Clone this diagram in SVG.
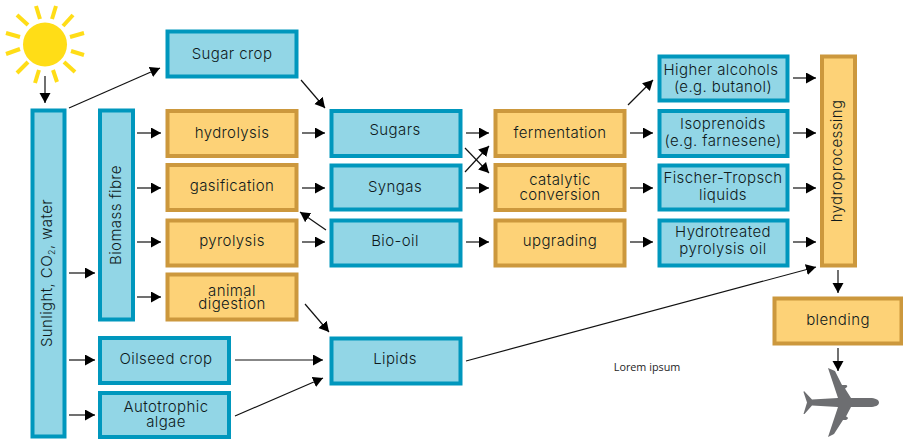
<svg xmlns="http://www.w3.org/2000/svg" width="903" height="439" viewBox="0 0 903 439">
<style>
.b rect{fill:#92d6e6;stroke:#0097bd;stroke-width:4}
.o rect{fill:#fdd277;stroke:#cc983d;stroke-width:4}
text{font-family:"Inter","Liberation Sans",sans-serif;font-size:15px;font-weight:300;letter-spacing:.4px;fill:#0f1a1c;text-anchor:middle}
.c line{stroke:#111;stroke-width:1.2;marker-end:url(#a)}
.r line{stroke:#ffdd17;stroke-width:4}
</style>
<defs><marker id="a" markerUnits="userSpaceOnUse" markerWidth="12" markerHeight="12" refX="10" refY="5.5" orient="auto"><path d="M0 0L10 5.5L0 11z" fill="#000"/></marker></defs>
<g id="sun"><circle cx="45" cy="44.500" r="22" fill="#ffdd17"/><g class="r"><line x1="36" y1="6" x2="40" y2="19"/><line x1="56" y1="6" x2="52" y2="19"/><line x1="17" y1="15" x2="28" y2="25"/><line x1="73" y1="15" x2="63" y2="26"/><line x1="6" y1="33" x2="20" y2="37"/><line x1="84" y1="33" x2="70" y2="37"/><line x1="6" y1="54" x2="20" y2="49"/><line x1="84" y1="55" x2="71" y2="51"/><line x1="17" y1="73" x2="28" y2="62"/><line x1="75" y1="72" x2="64" y2="62"/><line x1="35" y1="83" x2="39" y2="70"/><line x1="57" y1="82" x2="53" y2="70"/></g></g>
<g class="c" id="connectors">
<line x1="45" y1="76" x2="45" y2="103"/><line x1="69" y1="108" x2="160" y2="68"/><line x1="301" y1="80" x2="325" y2="108"/>
<line x1="137" y1="133" x2="161" y2="133"/><line x1="137" y1="188" x2="161" y2="188"/><line x1="137" y1="242" x2="161" y2="242"/><line x1="137" y1="297" x2="161" y2="297"/>
<line x1="69" y1="273" x2="95" y2="273"/><line x1="69" y1="360" x2="95" y2="360"/><line x1="69" y1="415" x2="95" y2="415"/>
<line x1="302" y1="133" x2="325" y2="133"/><line x1="302" y1="188" x2="325" y2="188"/><line x1="302" y1="242" x2="325" y2="242"/>
<line x1="326" y1="230" x2="300" y2="212"/><line x1="305" y1="304" x2="329" y2="332"/><line x1="235" y1="360" x2="323" y2="360"/><line x1="235" y1="416" x2="323" y2="378"/>
<line x1="466" y1="133" x2="489" y2="133"/><line x1="466" y1="188" x2="489" y2="188"/><line x1="466" y1="242" x2="489" y2="242"/>
<line x1="465" y1="148" x2="489" y2="173"/><line x1="465" y1="172" x2="489" y2="146"/>
<line x1="630" y1="133" x2="653" y2="133"/><line x1="630" y1="188" x2="653" y2="188"/><line x1="630" y1="242" x2="653" y2="242"/><line x1="628" y1="105" x2="653" y2="80"/>
<line x1="793" y1="78" x2="816" y2="78"/><line x1="793" y1="133" x2="816" y2="133"/><line x1="793" y1="188" x2="816" y2="188"/><line x1="793" y1="242" x2="816" y2="242"/>
<line x1="466" y1="361" x2="816" y2="267"/><line x1="838" y1="270" x2="838" y2="293"/><line x1="838" y1="348" x2="838" y2="371"/>
</g>
<g id="n1" class="b"><rect x="32.500" y="110.500" width="32" height="326"/><text transform="translate(52,273) rotate(-90)">Sunlight, CO<tspan font-size="9" dy="3">2</tspan><tspan dy="-3">, water</tspan></text></g>
<g id="n2" class="b"><rect x="100" y="110.500" width="33" height="209"/><text transform="translate(120.500,215) rotate(-90)">Biomass fibre</text></g>
<g id="n3" class="b"><rect x="167.500" y="31.500" width="129" height="45"/><text x="232" y="59">Sugar crop</text></g>
<g id="n4" class="o"><rect x="167.500" y="111" width="129" height="45"/><text x="232" y="138">hydrolysis</text></g>
<g id="n5" class="o"><rect x="167.500" y="165" width="129" height="45"/><text x="232" y="191">gasification</text></g>
<g id="n6" class="o"><rect x="167.500" y="220.500" width="129" height="45"/><text x="232" y="246">pyrolysis</text></g>
<g id="n7" class="o"><rect x="167.500" y="274.500" width="129" height="45"/><text x="232" y="296">animal</text><text x="232" y="309">digestion</text></g>
<g id="n8" class="b"><rect x="100" y="338" width="129" height="45"/><text x="166" y="364">Oilseed crop</text></g>
<g id="n9" class="b"><rect x="100" y="393" width="129" height="44"/><text x="166" y="412">Autotrophic</text><text x="166" y="427">algae</text></g>
<g id="n10" class="b"><rect x="331.500" y="111" width="129" height="45"/><text x="395" y="135">Sugars</text></g>
<g id="n11" class="b"><rect x="331.500" y="165.500" width="129" height="44"/><text x="395" y="192">Syngas</text></g>
<g id="n12" class="b"><rect x="331.500" y="220.500" width="129" height="45"/><text x="395" y="246">Bio-oil</text></g>
<g id="n13" class="b"><rect x="331.500" y="338.500" width="129" height="45"/><text x="395" y="364">Lipids</text></g>
<g id="n14" class="o"><rect x="495.500" y="111" width="129" height="45"/><text x="560" y="138">fermentation</text></g>
<g id="n15" class="o"><rect x="495.500" y="165" width="129" height="45"/><text x="560" y="185">catalytic</text><text x="560" y="200">conversion</text></g>
<g id="n16" class="o"><rect x="495.500" y="220.500" width="129" height="45"/><text x="560" y="246">upgrading</text></g>
<g id="n17" class="b"><rect x="659.500" y="56.500" width="128" height="44"/><text x="721" y="75">Higher alcohols</text><text x="723" y="92">(e.g. butanol)</text></g>
<g id="n18" class="b"><rect x="659.500" y="111" width="128" height="45"/><text x="723" y="129">Isoprenoids</text><text x="723" y="146">(e.g. farnesene)</text></g>
<g id="n19" class="b"><rect x="659.500" y="165.500" width="128" height="44"/><text x="723" y="183">Fischer-Tropsch</text><text x="723" y="200">liquids</text></g>
<g id="n20" class="b"><rect x="659.500" y="220.500" width="128" height="45"/><text x="723" y="237">Hydrotreated</text><text x="723" y="254">pyrolysis oil</text></g>
<g id="n21" class="o"><rect x="822" y="56.500" width="33" height="209"/><text transform="translate(842,161) rotate(-90)">hydroprocessing</text></g>
<g id="n22" class="o"><rect x="774.500" y="298.500" width="127" height="45"/><text x="838" y="325">blending</text></g>
<g id="plane"><path d="M879 402.500C879 399.500 875 398 870 398L851 398L845 388.500C848 387 848 385 845 385L842 385L835 371L828 368L838 398L812 399.500L804 391L803.500 392L807 402.500L803.500 414L804.500 414L812 405.500L838 407L828 437L834 434L843 420L846 420C849 419 848 417 846 416.500L851 407L870 407C875 407 879 405.500 879 402.500z" fill="#6d6e71"/></g>
<text x="647" y="371" style="font-family:'Open Sans','Liberation Sans',sans-serif;font-size:10.800px;font-weight:400;letter-spacing:0;fill:#1d2526">Lorem ipsum</text>
</svg>
